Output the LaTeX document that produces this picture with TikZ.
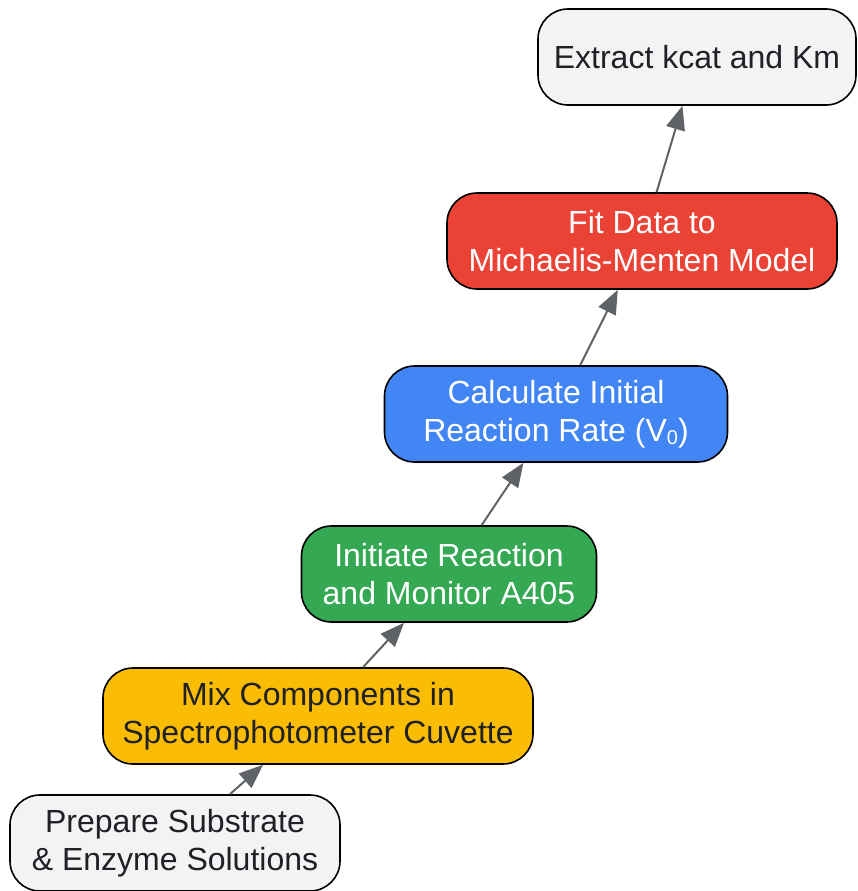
\documentclass[tikz,border=0pt]{standalone}
\usepackage{fontspec}
\setmainfont{Liberation Sans}
\usetikzlibrary{arrows.meta}
\definecolor{step gray}{HTML}{F1F3F4}
\definecolor{step yellow}{HTML}{FBBC04}
\definecolor{step green}{HTML}{34A853}
\definecolor{step blue}{HTML}{4285F4}
\definecolor{step red}{HTML}{EA4335}
\definecolor{step text}{HTML}{202124}
\definecolor{link}{HTML}{5F6368}
\newcommand{\subzero}{\raisebox{-0.1em}{\fontsize{20}{20}\selectfont 0}}
\tikzset{stepbox/.style={draw=black, line width=1.6pt, rounded corners=30pt,
        minimum height=96pt, align=center, text=step text,
        font=\fontsize{32}{38}\selectfont},
    link/.style={draw=link, line width=2pt, -{Triangle[length=24pt, width=19pt]}}}

\begin{document}
\begin{tikzpicture}[x=1pt, y=-1pt]

    \useasboundingbox (0,0) rectangle (857,891);

    \node[stepbox, fill=step gray, minimum width=330pt] (prep) at (175,843) {Prepare Substrate\\\& Enzyme Solutions};
    \node[stepbox, fill=step yellow, minimum width=430pt] (mix) at (318,716) {Mix Components in\\Spectrophotometer Cuvette};
    \node[stepbox, fill=step green, text=white, minimum width=295pt] (init) at (449,574) {Initiate Reaction\\and Monitor A405};
    \node[stepbox, fill=step blue, text=white, minimum width=343pt] (rate) at (556,414) {Calculate Initial\\Reaction Rate (V\subzero)};
    \node[stepbox, fill=step red, text=white, minimum width=390pt] (fit) at (642,241) {Fit Data to\\Michaelis-Menten Model};
    \node[stepbox, fill=step gray, minimum width=318pt] (kcat) at (697,57) {Extract kcat and Km};

    \draw[link] (prep) -- (mix);
    \draw[link] (mix) -- (init);
    \draw[link] (init) -- (rate);
    \draw[link] (rate) -- (fit);
    \draw[link] (fit) -- (kcat);

\end{tikzpicture}
\end{document}
